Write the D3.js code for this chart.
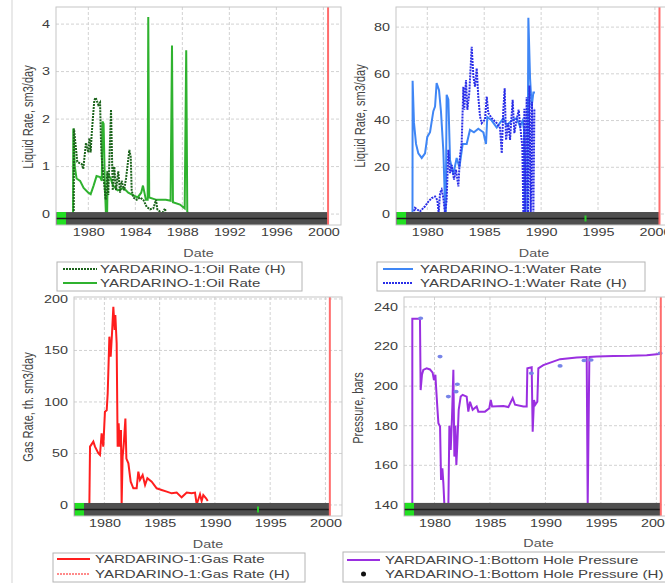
<!DOCTYPE html>
<html>
<head>
<meta charset="utf-8">
<script src="https://cdn.jsdelivr.net/npm/d3@7"></script>
<style>
body { margin: 0; background: #fff; }
svg { display: block; font-family: "Liberation Sans", Arial, sans-serif; }
</style>
</head>
<body>
<svg width="665" height="583"></svg>
<script>
// time axis shared by the four panels (decimal years)
const startYear = 1977.25
const endYear = 2001.5
const currentYear = 2000.4
const eventYear = 1993.9

const oilTicksX = [1980, 1984, 1988, 1992, 1996, 2000]
const yearTicksX = [1980, 1985, 1990, 1995, 2000]
const oilTicksY = [0, 1, 2, 3, 4]
const waterTicksY = [0, 20, 40, 60, 80]
const gasTicksY = [0, 50, 100, 150, 200]
const pressureTicksY = [140, 160, 180, 200, 220, 240]

// [year, value]
const oilRate = [
    [1978.70, 0], [1978.72, 1.8], [1978.85, 1.0], [1979.0, 0.75], [1979.3, 0.7], [1979.6, 0.55],
    [1980.0, 0.45], [1980.2, 0.42], [1980.45, 0.6], [1980.7, 0.8], [1981.0, 0.78], [1981.15, 0.7],
    [1981.2, 1.95], [1981.3, 1.9], [1981.42, 0.5], [1981.5, 0], [1981.6, 0], [1981.65, 0.85],
    [1981.9, 0.75], [1982.1, 0.6], [1982.5, 0.5], [1983.0, 0.55], [1983.4, 0.45], [1983.8, 0.4],
    [1984.2, 0.35], [1984.5, 0.45], [1984.65, 0.6], [1984.9, 0.3], [1985.05, 0.3], [1985.1, 4.15],
    [1985.18, 0.35], [1985.8, 0.3], [1986.6, 0.3], [1987.0, 0.28], [1987.12, 3.55], [1987.2, 0.25],
    [1987.8, 0.2], [1988.2, 0.12], [1988.33, 3.45], [1988.42, 0.05], [1988.55, 0]
]
const oilRateH = [
    [1978.76, 0], [1978.78, 1.8], [1979.06, 1.1], [1979.44, 1.05], [1979.57, 0.95], [1979.8, 1.5],
    [1980.0, 1.3], [1980.09, 1.6], [1980.2, 1.3], [1980.29, 1.7], [1980.51, 2.4], [1980.63, 2.45],
    [1980.85, 2.3], [1981.0, 2.35], [1981.08, 1.5], [1981.14, 1.2], [1981.28, 0.8], [1981.48, 0.3],
    [1981.62, 0.9], [1981.7, 0.4], [1981.93, 2.2], [1982.08, 0.5], [1982.21, 1.0], [1982.36, 0.5],
    [1982.55, 0.9], [1982.7, 0.45], [1982.84, 0.7], [1983.04, 0.5], [1983.21, 0.75], [1983.49, 1.35],
    [1983.61, 1.2], [1983.69, 0.5], [1983.83, 0.35], [1984.12, 0.3], [1984.4, 0.35], [1984.68, 0.3],
    [1984.97, 0.15], [1985.25, 0.1], [1985.53, 0.12], [1985.76, 0.3], [1985.87, 0.1], [1986.1, 0.05],
    [1986.25, 0], [1986.53, 0.12], [1986.59, 0]
]
const waterRate = [
    [1978.70, 0], [1978.71, 57], [1978.83, 39], [1979.01, 30], [1979.21, 26], [1979.51, 24],
    [1979.8, 26], [1980.0, 33], [1980.24, 35], [1980.53, 44], [1980.68, 46], [1980.82, 56],
    [1981.03, 53], [1981.2, 44], [1981.41, 27], [1981.5, 13], [1981.56, 0], [1981.62, 0],
    [1981.7, 51], [1981.85, 49], [1982.0, 23], [1982.29, 17], [1982.58, 24], [1982.82, 20],
    [1983.11, 30], [1983.46, 30], [1983.75, 36], [1984.1, 35], [1984.48, 36.5], [1984.92, 35],
    [1985.16, 30], [1985.27, 41.5], [1985.66, 40], [1986.1, 37], [1986.39, 39], [1986.68, 41],
    [1986.98, 38], [1987.41, 40], [1987.85, 41], [1988.15, 37.5], [1988.38, 40], [1988.5, 36],
    [1988.55, 0], [1988.8, 0], [1988.88, 84], [1989.03, 58], [1989.17, 46], [1989.32, 52], [1989.46, 52]
]
const waterRateH = [
    [1978.77, 0], [1978.92, 2.6], [1979.36, 1.1], [1979.8, 3.3], [1980.09, 5.3], [1980.38, 6.8],
    [1980.68, 7.5], [1980.88, 6], [1981.0, 0.4], [1981.12, 9], [1981.26, 10.4], [1981.41, 6.8],
    [1981.56, 0], [1981.7, 6], [1981.85, 27.5], [1982.0, 17.5], [1982.14, 21], [1982.35, 14.7],
    [1982.52, 19], [1982.73, 11.8], [1982.87, 24.7], [1983.02, 30.4], [1983.17, 54.5], [1983.25, 44.6],
    [1983.4, 57.3], [1983.52, 44.6], [1983.69, 51.8], [1983.9, 71.6], [1984.05, 58.9], [1984.19, 54.5],
    [1984.34, 62.4], [1984.48, 50.3], [1984.63, 41.8], [1984.78, 38.9], [1985.07, 40.4], [1985.22, 50.3],
    [1985.36, 43.2], [1985.66, 41], [1986.1, 38.9], [1986.39, 36.8], [1986.54, 26], [1986.68, 44.6],
    [1986.8, 53.8], [1986.92, 31.7], [1987.12, 38.9], [1987.27, 31.7], [1987.5, 48.9], [1987.65, 34.6],
    [1987.85, 40.4], [1988.03, 44.6], [1988.21, 35.3], [1988.35, 29], [1988.44, 0], [1988.53, 45],
    [1988.62, 0], [1988.73, 50], [1988.85, 0], [1988.97, 55], [1989.09, 0], [1989.2, 48],
    [1989.32, 0], [1989.41, 45], [1989.46, 45]
]
const gasRate = [
    [1978.64, 0], [1978.7, 56.6], [1979.0, 61.5], [1979.15, 56.6], [1979.45, 50.2], [1979.6, 48.5],
    [1979.75, 69.6], [1979.9, 56.6], [1980.05, 90.6], [1980.21, 92], [1980.3, 108.4], [1980.45, 163.4],
    [1980.57, 144], [1980.69, 166.7], [1980.81, 192.5], [1980.93, 170], [1980.99, 184.5], [1981.11, 157],
    [1981.2, 56.6], [1981.29, 79.3], [1981.38, 56.6], [1981.5, 72.8], [1981.56, 0], [1981.65, 46.9],
    [1981.76, 60], [1981.9, 84], [1981.99, 45], [1982.17, 40.5], [1982.38, 22.6], [1982.62, 16.2],
    [1982.92, 16.2], [1983.07, 32.4], [1983.22, 24.3], [1983.46, 29], [1983.68, 19.4], [1983.89, 26],
    [1984.28, 22.6], [1984.73, 16.2], [1985.18, 14.6], [1985.64, 13], [1986.09, 11.3], [1986.54, 12],
    [1986.99, 7.4], [1987.45, 12], [1987.9, 11.3], [1988.2, 12], [1988.35, 0.5], [1988.65, 10.4],
    [1988.8, 3.9], [1988.95, 9.7], [1989.2, 6.5], [1989.35, 3.9]
]
const bottomHolePressure = [
    [1978.0, 140], [1978.0, 234], [1978.69, 234], [1978.75, 198], [1978.87, 205.7], [1978.99, 208.2],
    [1979.29, 209], [1979.59, 208.4], [1979.83, 206.8], [1979.95, 203], [1980.08, 205.7], [1980.14, 199.8],
    [1980.25, 189.7], [1980.35, 181.2], [1980.5, 179.6], [1980.59, 152.6], [1980.71, 158.5], [1980.8, 150.9],
    [1980.89, 140], [1981.25, 140], [1981.34, 180], [1981.46, 167.8], [1981.58, 184.6], [1981.7, 208.2],
    [1981.79, 164.4], [1981.88, 180], [1981.97, 160.2], [1982.06, 171.1], [1982.18, 188], [1982.36, 194.7],
    [1982.54, 195.6], [1982.9, 194.7], [1983.05, 187.1], [1983.2, 192.1], [1983.44, 188], [1983.8, 189.7],
    [1983.95, 187.1], [1984.55, 187.1], [1984.94, 188.8], [1985.07, 193], [1985.19, 189.7], [1986.21, 190],
    [1986.66, 189.4], [1987.05, 193.9], [1987.26, 190.6], [1988.01, 189.7], [1988.31, 189.7], [1988.37, 209],
    [1988.76, 209.5], [1988.85, 177], [1988.97, 193], [1989.09, 190.6], [1989.27, 192.1], [1989.36, 209],
    [1989.81, 210.6], [1991.32, 213.6], [1992.82, 214.4], [1993.72, 214.7], [1993.81, 140], [1993.96, 214.7],
    [1994.62, 214.9], [1996.13, 215.2], [1997.63, 215.3], [1999.13, 215.6], [2000.48, 216.4]
]
const bottomHolePressureH = [
    [1978.75, 234.3], [1980.5, 214.9], [1981.25, 194.7], [1981.94, 197.2], [1982.06, 200.9],
    [1988.73, 206.5], [1991.32, 210.2], [1993.48, 212.9], [1994.11, 213.2], [2000.33, 216.6]
]

// the source picture is stretched sideways, text is stretched to match
const sx = 1.37
const svg = d3.select('svg')

const panels = [
    {
        xRange: [56, 341], yRange: [225, 7], yDomain: [-0.23, 4.36],
        xTicks: oilTicksX, yTicks: oilTicksY, greenMarks: [],
        yTitle: 'Liquid Rate, sm3/day', yTitlePos: [28, 117], dateY: 253,
        series: [
            { name: 'YARDARINO-1:Oil Rate', data: oilRate, color: '#2fb22f', dash: null },
            { name: 'YARDARINO-1:Oil Rate (H)', data: oilRateH, color: '#1c641c', dash: '2,1' }
        ],
        legendOrder: [1, 0], legendBox: [57, 262, 245, 29], legendSample: [63, 97], legendTextX: 100, legendRows: [269, 283]
    },
    {
        xRange: [396, 672], yRange: [225, 7], yDomain: [-4.7, 88.6],
        xTicks: yearTicksX, yTicks: waterTicksY, greenMarks: [eventYear],
        yTitle: 'Liquid Rate, sm3/day', yTitlePos: [360, 116], dateY: 253,
        series: [
            { name: 'YARDARINO-1:Water Rate', data: waterRate, color: '#3f86f5', dash: null },
            { name: 'YARDARINO-1:Water Rate (H)', data: waterRateH, color: '#2a2ee8', dash: '2,1' }
        ],
        legendOrder: [0, 1], legendBox: [377, 262, 268, 29], legendSample: [383, 413], legendTextX: 420, legendRows: [269, 283]
    },
    {
        xRange: [74, 342], yRange: [516, 297], yDomain: [-10.7, 201.9],
        xTicks: yearTicksX, yTicks: gasTicksY, greenMarks: [eventYear],
        yTitle: 'Gas Rate, th. sm3/day', yTitlePos: [28, 407], dateY: 544,
        series: [
            { name: 'YARDARINO-1:Gas Rate', data: gasRate, color: '#ff1e1e', dash: null },
            { name: 'YARDARINO-1:Gas Rate (H)', data: [], color: '#ff8a8a', dash: '2,1' }
        ],
        legendOrder: [0, 1], legendBox: [53, 553, 252, 29], legendSample: [57, 90], legendTextX: 95, legendRows: [559, 574]
    },
    {
        xRange: [404, 673], yRange: [516, 297], yDomain: [134.4, 245],
        xTicks: yearTicksX, yTicks: pressureTicksY, greenMarks: [],
        yTitle: 'Pressure, bars', yTitlePos: [358, 408], dateY: 543,
        series: [
            { name: 'YARDARINO-1:Bottom Hole Pressure', data: bottomHolePressure, color: '#9a2fe0', dash: null },
            { name: 'YARDARINO-1:Bottom Hole Pressure (H)', data: bottomHolePressureH, color: '#7784e8', points: true }
        ],
        legendOrder: [0, 1], legendBox: [343, 552, 350, 30], legendSample: [347, 380], legendTextX: 385, legendRows: [560, 574]
    }
]

// faint panel borders
svg.append('line').attr('x1', 12).attr('x2', 12).attr('y1', 0).attr('y2', 583)
    .attr('stroke', '#e2e2e2').attr('stroke-width', 1.5)

function stretchedText(g, x, y, str, size, fill, rotate) {
    return g.append('text')
        .attr('transform', `translate(${x},${y}) scale(${sx},1)` + (rotate ? ' rotate(-90)' : ''))
        .attr('dy', '0.35em')
        .attr('font-size', size)
        .attr('fill', fill)
        .text(str)
}

panels.forEach((p, i) => {
    const x = d3.scaleLinear().domain([startYear, endYear]).range(p.xRange)
    const y = d3.scaleLinear().domain(p.yDomain).range(p.yRange)
    const [left, right] = p.xRange
    const [bottom, top] = p.yRange
    const g = svg.append('g')

    svg.append('clipPath').attr('id', 'clip' + i).append('rect')
        .attr('x', left).attr('y', top).attr('width', right - left).attr('height', bottom - top)

    g.append('rect').attr('x', left).attr('y', top).attr('width', right - left).attr('height', bottom - top)
        .attr('fill', '#fff')

    // grid
    const grid = g.append('g').attr('clip-path', `url(#clip${i})`)
        .attr('stroke', '#d2d2d2').attr('stroke-dasharray', '3,2').attr('stroke-width', 1)
    grid.selectAll('.vg').data(p.xTicks).join('line').attr('class', 'vg')
        .attr('x1', d => x(d)).attr('x2', d => x(d)).attr('y1', top).attr('y2', bottom)
    grid.selectAll('.hg').data(p.yTicks).join('line').attr('class', 'hg')
        .attr('x1', left).attr('x2', right).attr('y1', d => y(d)).attr('y2', d => y(d))

    // series
    const line = d3.line().x(d => x(d[0])).y(d => y(d[1]))
    const plot = g.append('g').attr('clip-path', `url(#clip${i})`)
    p.series.forEach(s => {
        if (s.points) {
            plot.selectAll(null).data(s.data).join('ellipse')
                .attr('cx', d => x(d[0])).attr('cy', d => y(d[1]))
                .attr('rx', 2.6).attr('ry', 1.8).attr('fill', s.color)
        } else if (s.data.length) {
            plot.append('path').datum(s.data).attr('d', line)
                .attr('fill', 'none').attr('stroke', s.color).attr('stroke-width', 2)
                .attr('stroke-dasharray', s.dash)
        }
    })

    // timeline band along the bottom
    const base = p.yTicks[0]
    const bandTop = y(base) - 2
    const bandMid = (bandTop + bottom) / 2
    const bandEnd = x(currentYear)
    g.append('rect').attr('x', left).attr('y', bandTop).attr('width', bandEnd - left).attr('height', bottom - bandTop)
        .attr('fill', '#4f4f4f')
    g.append('rect').attr('x', left + 1).attr('y', bandTop).attr('width', 9).attr('height', bottom - bandTop)
        .attr('fill', '#22e022')
    g.append('line').attr('x1', left).attr('x2', bandEnd).attr('y1', bandMid).attr('y2', bandMid)
        .attr('stroke', '#1c1c1c').attr('stroke-width', 1.5)
    g.selectAll('.mark').data(p.greenMarks).join('rect').attr('class', 'mark')
        .attr('x', d => x(d) - 1).attr('y', bandMid - 3).attr('width', 2).attr('height', 6)
        .attr('fill', '#2ccf2c')

    // current date marker
    g.append('line').attr('x1', bandEnd).attr('x2', bandEnd).attr('y1', top).attr('y2', bottom)
        .attr('stroke', '#ff6c6c').attr('stroke-width', 2)

    g.append('rect').attr('x', left).attr('y', top).attr('width', right - left).attr('height', bottom - top)
        .attr('fill', 'none').attr('stroke', '#c6c6c6')

    // axes
    const yAxis = d3.axisLeft(y).tickValues(p.yTicks).tickFormat(d3.format('d')).tickSize(0).tickPadding(4.4)
    g.append('g').attr('transform', `translate(${left},0)`).call(yAxis)
        .call(a => {
            a.attr('font-family', null).attr('font-size', 10.5)
            a.select('.domain').remove()
            a.selectAll('text').attr('fill', '#3c3c3c').attr('transform', `scale(${sx},1)`)
        })
    const xAxis = d3.axisBottom(x).tickValues(p.xTicks).tickFormat(d3.format('d')).tickSize(0).tickPadding(4)
    g.append('g').attr('transform', `translate(0,${bottom})`).call(xAxis)
        .call(a => {
            a.attr('font-family', null).attr('font-size', 10.5)
            a.select('.domain').remove()
            a.selectAll('text').attr('fill', '#3c3c3c').attr('transform', `scale(${sx},1)`)
        })

    stretchedText(g, (left + right) / 2, p.dateY, 'Date', 10.5, '#555').attr('text-anchor', 'middle')
    stretchedText(g, p.yTitlePos[0], p.yTitlePos[1], p.yTitle, 11, '#444', true).attr('text-anchor', 'middle')

    // legend
    const [lx, ly, lw, lh] = p.legendBox
    g.append('rect').attr('x', lx).attr('y', ly).attr('width', lw).attr('height', lh)
        .attr('fill', '#fff').attr('stroke', '#b4b4b4')
    p.legendOrder.forEach((k, row) => {
        const s = p.series[k]
        const ry = p.legendRows[row]
        if (s.points) {
            g.append('circle').attr('cx', (p.legendSample[0] + p.legendSample[1]) / 2).attr('cy', ry)
                .attr('r', 2.5).attr('fill', '#111')
        } else {
            g.append('line').attr('x1', p.legendSample[0]).attr('x2', p.legendSample[1])
                .attr('y1', ry).attr('y2', ry)
                .attr('stroke', s.color).attr('stroke-width', 2).attr('stroke-dasharray', s.dash)
        }
        stretchedText(g, p.legendTextX, ry, s.name, 11, '#444')
    })
})
</script>
</body>
</html>
